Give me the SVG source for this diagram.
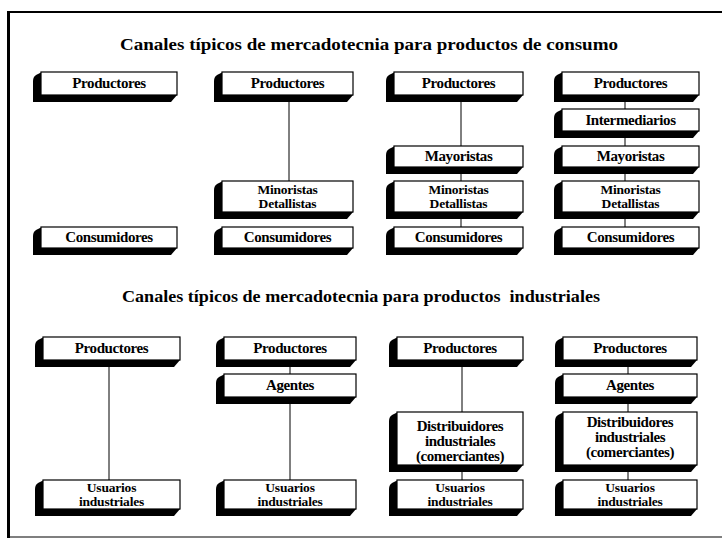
<svg xmlns="http://www.w3.org/2000/svg" width="728" height="547" viewBox="0 0 728 547">
  <style>
    .bg { fill: #ffffff; }
    .frame { stroke: #000; fill: none; }
    .ext { fill: #000; }
    .face { fill: #fff; stroke: #000; stroke-width: 1.2; }
    .lbl { font-family: "Liberation Serif", "Times New Roman", serif; font-weight: bold; font-size: 15px; fill: #000; text-anchor: middle; letter-spacing: -0.4px; }
    .lbl2 { font-size: 13.5px; letter-spacing: -0.2px; }
    .title { font-family: "Liberation Serif", "Times New Roman", serif; font-weight: bold; font-size: 17px; fill: #000; white-space: pre; }
    .conn line { stroke: #000; stroke-width: 1; }
  </style>

  <rect class="bg" x="0" y="0" width="728" height="547"/>

  <!-- page frame -->
  <g id="frame">
    <line class="frame" x1="8" y1="12" x2="722" y2="12" stroke-width="2"/>
    <line class="frame" x1="8.5" y1="11" x2="8.5" y2="538" stroke-width="3"/>
    <line class="frame" x1="8" y1="537" x2="722" y2="537" stroke-width="1.2" stroke="#444"/>
  </g>

  <!-- headings -->
  <text id="title-consumo" class="title" x="120" y="50" textLength="498" lengthAdjust="spacingAndGlyphs">Canales típicos de mercadotecnia para productos de consumo</text>
  <text id="title-industriales" class="title" x="122" y="302" textLength="478" lengthAdjust="spacingAndGlyphs">Canales típicos de mercadotecnia para productos  industriales</text>

  <!-- connectors -->
  <g id="connectors" class="conn">
    <line x1="289" y1="95" x2="289" y2="181"/>
    <line x1="461" y1="95" x2="461" y2="146"/>
    <line x1="461" y1="167" x2="461" y2="181"/>
    <line x1="461" y1="212" x2="461" y2="227"/>
    <line x1="625" y1="95" x2="625" y2="109"/>
    <line x1="625" y1="131" x2="625" y2="146"/>
    <line x1="625" y1="167" x2="625" y2="181"/>
    <line x1="625" y1="212" x2="625" y2="227"/>

    <line x1="109" y1="360" x2="109" y2="480"/>
    <line x1="290" y1="360" x2="290" y2="374"/>
    <line x1="290" y1="397" x2="290" y2="480"/>
    <line x1="462" y1="360" x2="462" y2="412"/>
    <line x1="462" y1="465" x2="462" y2="480"/>
    <line x1="628" y1="360" x2="628" y2="374"/>
    <line x1="628" y1="397" x2="628" y2="412"/>
    <line x1="628" y1="465" x2="628" y2="480"/>
  </g>

  <!-- consumer goods channels -->
  <g id="c1-productores" transform="translate(41,72)">
    <path class="ext" d="M1,0 L-5,3 Q-8,5 -8,9 L-8,30 L130,30 L136,23 Z"/>
    <rect class="face" x="0" y="0" width="136" height="23"/>
    <text class="lbl" x="68" y="16">Productores</text>
  </g>
  <g id="c1-consumidores" transform="translate(41,227)">
    <path class="ext" d="M1,0 L-5,3 Q-8,5 -8,9 L-8,28 L130,28 L136,21 Z"/>
    <rect class="face" x="0" y="0" width="136" height="21"/>
    <text class="lbl" x="68" y="15">Consumidores</text>
  </g>

  <g id="c2-productores" transform="translate(222,72)">
    <path class="ext" d="M1,0 L-5,3 Q-8,5 -8,9 L-8,30 L125,30 L131,23 Z"/>
    <rect class="face" x="0" y="0" width="131" height="23"/>
    <text class="lbl" x="65.5" y="16">Productores</text>
  </g>
  <g id="c2-minoristas" transform="translate(222,181)">
    <path class="ext" d="M1,0 L-5,3 Q-8,5 -8,9 L-8,38 L125,38 L131,31 Z"/>
    <rect class="face" x="0" y="0" width="131" height="31"/>
    <text class="lbl lbl2" x="65.5" y="12.5"><tspan x="65.5">Minoristas</tspan><tspan x="65.5" dy="14">Detallistas</tspan></text>
  </g>
  <g id="c2-consumidores" transform="translate(222,227)">
    <path class="ext" d="M1,0 L-5,3 Q-8,5 -8,9 L-8,28 L125,28 L131,21 Z"/>
    <rect class="face" x="0" y="0" width="131" height="21"/>
    <text class="lbl" x="65.5" y="15">Consumidores</text>
  </g>

  <g id="c3-productores" transform="translate(394,72)">
    <path class="ext" d="M1,0 L-5,3 Q-8,5 -8,9 L-8,30 L123,30 L129,23 Z"/>
    <rect class="face" x="0" y="0" width="129" height="23"/>
    <text class="lbl" x="64.5" y="16">Productores</text>
  </g>
  <g id="c3-mayoristas" transform="translate(394,146)">
    <path class="ext" d="M1,0 L-5,3 Q-8,5 -8,9 L-8,28 L123,28 L129,21 Z"/>
    <rect class="face" x="0" y="0" width="129" height="21"/>
    <text class="lbl" x="64.5" y="15">Mayoristas</text>
  </g>
  <g id="c3-minoristas" transform="translate(394,181)">
    <path class="ext" d="M1,0 L-5,3 Q-8,5 -8,9 L-8,38 L123,38 L129,31 Z"/>
    <rect class="face" x="0" y="0" width="129" height="31"/>
    <text class="lbl lbl2" x="64.5" y="12.5"><tspan x="64.5">Minoristas</tspan><tspan x="64.5" dy="14">Detallistas</tspan></text>
  </g>
  <g id="c3-consumidores" transform="translate(394,227)">
    <path class="ext" d="M1,0 L-5,3 Q-8,5 -8,9 L-8,28 L123,28 L129,21 Z"/>
    <rect class="face" x="0" y="0" width="129" height="21"/>
    <text class="lbl" x="64.5" y="15">Consumidores</text>
  </g>

  <g id="c4-productores" transform="translate(562,72)">
    <path class="ext" d="M1,0 L-5,3 Q-8,5 -8,9 L-8,30 L131,30 L137,23 Z"/>
    <rect class="face" x="0" y="0" width="137" height="23"/>
    <text class="lbl" x="68.5" y="16">Productores</text>
  </g>
  <g id="c4-intermediarios" transform="translate(562,109)">
    <path class="ext" d="M1,0 L-5,3 Q-8,5 -8,9 L-8,29 L131,29 L137,22 Z"/>
    <rect class="face" x="0" y="0" width="137" height="22"/>
    <text class="lbl" x="68.5" y="15.5">Intermediarios</text>
  </g>
  <g id="c4-mayoristas" transform="translate(562,146)">
    <path class="ext" d="M1,0 L-5,3 Q-8,5 -8,9 L-8,28 L131,28 L137,21 Z"/>
    <rect class="face" x="0" y="0" width="137" height="21"/>
    <text class="lbl" x="68.5" y="15">Mayoristas</text>
  </g>
  <g id="c4-minoristas" transform="translate(562,181)">
    <path class="ext" d="M1,0 L-5,3 Q-8,5 -8,9 L-8,38 L131,38 L137,31 Z"/>
    <rect class="face" x="0" y="0" width="137" height="31"/>
    <text class="lbl lbl2" x="68.5" y="12.5"><tspan x="68.5">Minoristas</tspan><tspan x="68.5" dy="14">Detallistas</tspan></text>
  </g>
  <g id="c4-consumidores" transform="translate(562,227)">
    <path class="ext" d="M1,0 L-5,3 Q-8,5 -8,9 L-8,28 L131,28 L137,21 Z"/>
    <rect class="face" x="0" y="0" width="137" height="21"/>
    <text class="lbl" x="68.5" y="15">Consumidores</text>
  </g>

  <!-- industrial goods channels -->
  <g id="i1-productores" transform="translate(43,337)">
    <path class="ext" d="M1,0 L-5,3 Q-8,5 -8,9 L-8,30 L131,30 L137,23 Z"/>
    <rect class="face" x="0" y="0" width="137" height="23"/>
    <text class="lbl" x="68.5" y="16">Productores</text>
  </g>
  <g id="i1-usuarios" transform="translate(43,480)">
    <path class="ext" d="M1,0 L-5,3 Q-8,5 -8,9 L-8,36 L131,36 L137,29 Z"/>
    <rect class="face" x="0" y="0" width="137" height="29"/>
    <text class="lbl lbl2" x="68.5" y="12"><tspan x="68.5">Usuarios</tspan><tspan x="68.5" dy="14">industriales</tspan></text>
  </g>

  <g id="i2-productores" transform="translate(224,337)">
    <path class="ext" d="M1,0 L-5,3 Q-8,5 -8,9 L-8,30 L126,30 L132,23 Z"/>
    <rect class="face" x="0" y="0" width="132" height="23"/>
    <text class="lbl" x="66" y="16">Productores</text>
  </g>
  <g id="i2-agentes" transform="translate(224,374)">
    <path class="ext" d="M1,0 L-5,3 Q-8,5 -8,9 L-8,30 L126,30 L132,23 Z"/>
    <rect class="face" x="0" y="0" width="132" height="23"/>
    <text class="lbl" x="66" y="16">Agentes</text>
  </g>
  <g id="i2-usuarios" transform="translate(224,480)">
    <path class="ext" d="M1,0 L-5,3 Q-8,5 -8,9 L-8,36 L126,36 L132,29 Z"/>
    <rect class="face" x="0" y="0" width="132" height="29"/>
    <text class="lbl lbl2" x="66" y="12"><tspan x="66">Usuarios</tspan><tspan x="66" dy="14">industriales</tspan></text>
  </g>

  <g id="i3-productores" transform="translate(397,337)">
    <path class="ext" d="M1,0 L-5,3 Q-8,5 -8,9 L-8,30 L120,30 L126,23 Z"/>
    <rect class="face" x="0" y="0" width="126" height="23"/>
    <text class="lbl" x="63" y="16">Productores</text>
  </g>
  <g id="i3-distribuidores" transform="translate(397,412)">
    <path class="ext" d="M1,0 L-5,3 Q-8,5 -8,9 L-8,60 L120,60 L126,53 Z"/>
    <rect class="face" x="0" y="0" width="126" height="53"/>
    <text class="lbl" x="63" y="19"><tspan x="63">Distribuidores</tspan><tspan x="63" dy="15">industriales</tspan><tspan x="63" dy="15">(comerciantes)</tspan></text>
  </g>
  <g id="i3-usuarios" transform="translate(397,480)">
    <path class="ext" d="M1,0 L-5,3 Q-8,5 -8,9 L-8,36 L120,36 L126,29 Z"/>
    <rect class="face" x="0" y="0" width="126" height="29"/>
    <text class="lbl lbl2" x="63" y="12"><tspan x="63">Usuarios</tspan><tspan x="63" dy="14">industriales</tspan></text>
  </g>

  <g id="i4-productores" transform="translate(563,337)">
    <path class="ext" d="M1,0 L-5,3 Q-8,5 -8,9 L-8,30 L128,30 L134,23 Z"/>
    <rect class="face" x="0" y="0" width="134" height="23"/>
    <text class="lbl" x="67" y="16">Productores</text>
  </g>
  <g id="i4-agentes" transform="translate(563,374)">
    <path class="ext" d="M1,0 L-5,3 Q-8,5 -8,9 L-8,30 L128,30 L134,23 Z"/>
    <rect class="face" x="0" y="0" width="134" height="23"/>
    <text class="lbl" x="67" y="16">Agentes</text>
  </g>
  <g id="i4-distribuidores" transform="translate(563,412)">
    <path class="ext" d="M1,0 L-5,3 Q-8,5 -8,9 L-8,60 L128,60 L134,53 Z"/>
    <rect class="face" x="0" y="0" width="134" height="53"/>
    <text class="lbl" x="67" y="15"><tspan x="67">Distribuidores</tspan><tspan x="67" dy="15">industriales</tspan><tspan x="67" dy="15">(comerciantes)</tspan></text>
  </g>
  <g id="i4-usuarios" transform="translate(563,480)">
    <path class="ext" d="M1,0 L-5,3 Q-8,5 -8,9 L-8,36 L128,36 L134,29 Z"/>
    <rect class="face" x="0" y="0" width="134" height="29"/>
    <text class="lbl lbl2" x="67" y="12"><tspan x="67">Usuarios</tspan><tspan x="67" dy="14">industriales</tspan></text>
  </g>
</svg>
